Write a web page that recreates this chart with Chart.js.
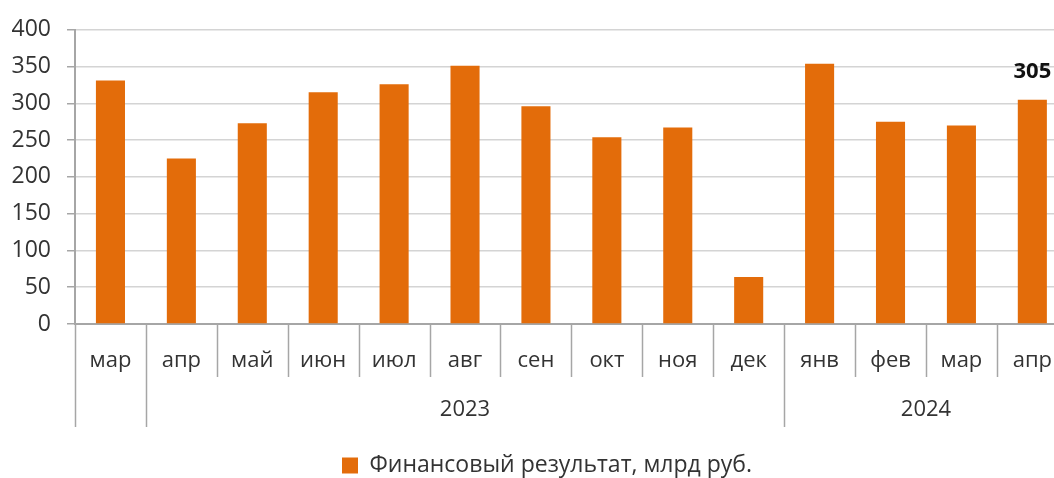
<!DOCTYPE html>
<html lang="ru">
<head>
<meta charset="utf-8">
<title>Финансовый результат</title>
<script src="https://cdn.jsdelivr.net/npm/chart.js@4.4.1/dist/chart.umd.min.js"></script>
<style>
    html, body { margin: 0; padding: 0; background: #fff; overflow: hidden; }
    .wrap { width: 1054px; height: 478px; overflow: hidden; }
    .box { width: 1068px; height: 478px; }
</style>
</head>
<body>
<div class="wrap"><div class="box"><canvas id="chart"></canvas></div></div>
<script>
const months = ['мар', 'апр', 'май', 'июн', 'июл', 'авг', 'сен', 'окт', 'ноя', 'дек', 'янв', 'фев', 'мар', 'апр'];
const values = [331, 225, 273, 315, 326, 351, 296, 254, 267, 64, 354, 275, 270, 305];
const yearLabels = ['', '2023', '2024'];
const yearSpans = [1, 9, 4];
const yTicks = [0, 50, 100, 150, 200, 250, 300, 350, 400];
const seriesName = 'Финансовый результат, млрд руб.';
const labelledIndex = 13;

const FONT = '"Open Sans", "Noto Sans", sans-serif';
const TEXT = '#333333';
const AXIS = '#a6a6a6';

// separators and year row under the category axis, plus the single value label
const axisGroups = {
    id: 'axisGroups',
    afterLayout(chart) {
        // legend sits a bit right of the canvas centre in the original
        chart.legend.left += 13;
        chart.legend.right += 13;
    },
    afterDraw(chart) {
        const ctx = chart.ctx;
        const x = chart.scales.x;
        const n = months.length;
        const step = x.width / n;
        const top = x.top;

        ctx.save();
        ctx.strokeStyle = AXIS;
        ctx.lineWidth = 1.5;

        const groupEdges = [0];
        yearSpans.forEach(s => groupEdges.push(groupEdges[groupEdges.length - 1] + s));

        for (let i = 0; i <= n; i++) {
            const px = Math.round(x.left + i * step) + 0.5;
            const long = groupEdges.includes(i);
            ctx.beginPath();
            ctx.moveTo(px, top);
            ctx.lineTo(px, top + (long ? 103 : 53));
            ctx.stroke();
        }

        ctx.fillStyle = TEXT;
        ctx.font = '22px ' + FONT;
        ctx.textAlign = 'center';
        ctx.textBaseline = 'middle';
        yearLabels.forEach((label, g) => {
            if (!label) return;
            const cx = x.left + (groupEdges[g] + groupEdges[g + 1]) / 2 * step;
            ctx.fillText(label, cx, top + 86);
        });

        const bar = chart.getDatasetMeta(0).data[labelledIndex];
        ctx.fillStyle = '#111111';
        ctx.font = 'bold 22px ' + FONT;
        ctx.fillText(String(values[labelledIndex]), bar.x, bar.y - 28);
        ctx.restore();
    }
};

new Chart(document.getElementById('chart'), {
    type: 'bar',
    data: {
        labels: months,
        datasets: [{
            label: seriesName,
            data: values,
            backgroundColor: '#e36c0a',
            borderWidth: 0,
            barPercentage: 0.41,
            categoryPercentage: 1
        }]
    },
    options: {
        responsive: true,
        maintainAspectRatio: false,
        animation: false,
        layout: { padding: { top: 15, right: 0, left: 0, bottom: -9 } },
        plugins: {
            tooltip: { enabled: false },
            legend: {
                position: 'bottom',
                labels: {
                    boxWidth: 16,
                    boxHeight: 16,
                    padding: 1,
                    color: TEXT,
                    font: { family: FONT, size: 23 }
                }
            }
        },
        scales: {
            x: {
                grid: { display: false },
                border: { display: true, color: AXIS, width: 2 },
                ticks: {
                    color: TEXT,
                    font: { family: FONT, size: 22 },
                    padding: 16,
                    maxRotation: 0,
                    autoSkip: false
                },
                afterFit(scale) { scale.height = 129; }
            },
            y: {
                min: 0,
                max: 400,
                afterBuildTicks(scale) { scale.ticks = yTicks.map(v => ({ value: v })); },
                grid: { color: '#d4d4d4', lineWidth: 1.5, tickLength: 8, tickColor: AXIS },
                border: { display: true, color: AXIS, width: 2 },
                ticks: {
                    color: TEXT,
                    font: { family: FONT, size: 23 },
                    padding: 16
                },
                afterFit(scale) { scale.width = 75; }
            }
        }
    },
    plugins: [axisGroups]
});
</script>
</body>
</html>
